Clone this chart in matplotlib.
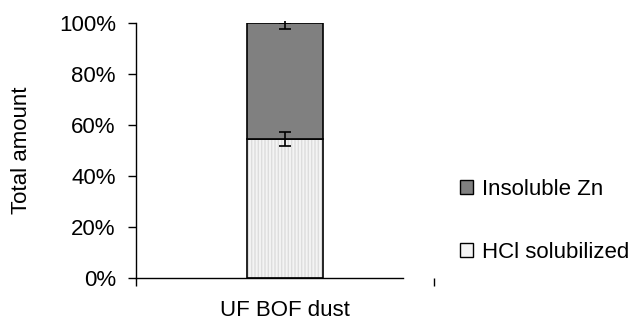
import matplotlib
matplotlib.use("Agg")
import matplotlib.pyplot as plt
from matplotlib.patches import Patch

plt.rcParams['font.family'] = ['Liberation Sans', 'DejaVu Sans']

categories = ["UF BOF dust"]
hcl_solubilized = [54.6]
insoluble_zn = [45.4]
hcl_err = [2.8]
total_err_low = [2.3]
total_err_high = [0.8]
yticks = [0, 20, 40, 60, 80, 100]
ytick_labels = ["0%", "20%", "40%", "60%", "80%", "100%"]

W, H = 630, 322
fig = plt.figure(figsize=(W / 100, H / 100), dpi=100)
ax = fig.add_axes([136 / W, 1 - 278 / H, (434 - 136) / W, (278 - 23) / H])

x = [0.5]
bw = 0.255
dark = "#808080"
light = "#F4F4F4"

# light segment: faint vertical stripes, then black outline
ax.bar(x, hcl_solubilized, width=bw, color=light, edgecolor="#DDDDDD", linewidth=0,
       hatch="|||||", zorder=2)
ax.bar(x, hcl_solubilized, width=bw, color="none", edgecolor="black", linewidth=1.2, zorder=2)
ax.bar(x, insoluble_zn, width=bw, bottom=hcl_solubilized, color=dark, edgecolor="black",
       linewidth=1.2, zorder=2)

ax.errorbar(x, hcl_solubilized, yerr=[hcl_err, hcl_err], fmt="none", ecolor="black",
            elinewidth=1.2, capsize=4, capthick=1.2, zorder=3)
tot = [h + i for h, i in zip(hcl_solubilized, insoluble_zn)]
ax.errorbar(x, tot, yerr=[total_err_low, [0]], fmt="none", ecolor="black",
            elinewidth=1.2, capsize=4, capthick=1.2, zorder=3)
ax.vlines(x, tot[0], tot[0] + total_err_high[0], color="black", linewidth=1.2, zorder=3,
          clip_on=False)

ax.set_xlim(0, 1)
ax.set_ylim(0, 100)
ax.set_yticks(yticks)
ax.set_yticklabels(ytick_labels, fontsize=16)
ax.set_xticks([0, 1])
ax.set_xticklabels(["", ""])
ax.tick_params(axis="both", direction="out", length=6, width=1, color="black")
ax.tick_params(axis="y", pad=8.5)
for s in ["top", "right"]:
    ax.spines[s].set_visible(False)
ax.spines["bottom"].set_bounds(0, (403 - 136) / (434 - 136))
ax.spines["left"].set_linewidth(1)
ax.spines["bottom"].set_linewidth(1)

ax.text(0.5, 1 - 310 / H, categories[0], transform=fig.transFigure, ha="center",
        va="center", fontsize=16)
fig.text(22 / W, 1 - 150 / H, "Total amount", rotation=90, ha="center", va="center", fontsize=16)
# category label centred under the bar
ax.texts[-1].set_x(285 / W)

handles = [Patch(facecolor=dark, edgecolor="black", linewidth=1.0, label="Insoluble Zn"),
           Patch(facecolor=light, edgecolor="black", linewidth=1.0, label="HCl solubilized")]
fig.legend(handles=handles, loc="center left", bbox_to_anchor=(460 / W, 1 - 221 / H),
           frameon=False, fontsize=16, handlelength=0.6, handleheight=0.6,
           handletextpad=0.4, labelspacing=1.9, borderaxespad=0, borderpad=0)

fig.savefig("out.png", dpi=100)
